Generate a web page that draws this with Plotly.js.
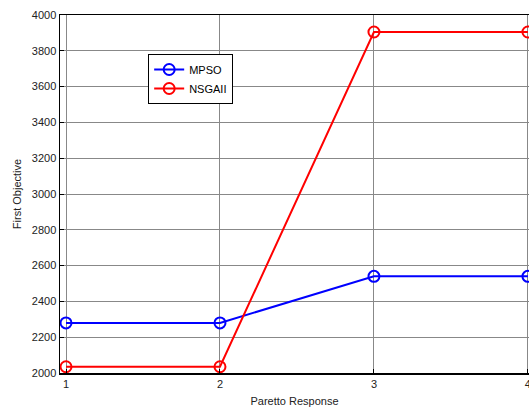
<!DOCTYPE html>
<html><head><meta charset="utf-8">
<script src="https://cdn.plot.ly/plotly-3.0.1.min.js"></script>
<style>body{margin:0;padding:0;background:#fff}#c{width:529px;height:410px}</style>
</head><body><div id="c"></div>
<script>
const responses = [1, 2, 3, 4];
const mpso = [2280, 2280, 2540, 2540];
const nsgaii = [2035, 2035, 3905, 3905];
const xTicks = [1, 2, 3, 4];
const yTicks = [2000, 2200, 2400, 2600, 2800, 3000, 3200, 3400, 3600, 3800, 4000];

const mk = (name, y, color) => ({
  x: responses, y: y, name: name, type: 'scatter', mode: 'lines+markers',
  line: {color: color, width: 2},
  marker: {symbol: 'circle-open', size: 11, color: color, line: {width: 2, color: color}},
  cliponaxis: false
});

const font = {family: 'Liberation Sans, Arial, sans-serif', size: 11, color: '#222'};
Plotly.newPlot('c', [mk('MPSO', mpso, '#0000ff'), mk('NSGAII', nsgaii, '#ff0000')], {
  width: 529, height: 410,
  margin: {l: 60, r: 0, t: 15, b: 37},
  paper_bgcolor: '#fff', plot_bgcolor: '#fff',
  font: font,
  showlegend: true,
  legend: {x: 0.188, y: 0.891, xanchor: 'left', yanchor: 'top', bgcolor: '#fff',
           bordercolor: '#000', borderwidth: 1, font: {family: font.family, size: 11, color: '#000'},
           tracegroupgap: 0, itemwidth: 30},
  xaxis: {range: [0.961, 4.007], tickvals: xTicks, ticktext: xTicks.map(String),
          ticklabeloverflow: 'allow',
          showgrid: true, gridcolor: '#888', gridwidth: 1, zeroline: false,
          showline: true, linecolor: '#000', linewidth: 1.5, mirror: true,
          ticks: 'inside', ticklen: 4, tickcolor: '#000',
          title: {text: 'Paretto Response', font: {family: font.family, size: 11, color: '#222'}, standoff: 8}},
  yaxis: {range: [2000, 4000], tickvals: yTicks, ticktext: yTicks.map(String),
          showgrid: true, gridcolor: '#888', gridwidth: 1, zeroline: false,
          showline: true, linecolor: '#000', linewidth: 1.5, mirror: true,
          ticks: 'inside', ticklen: 4, tickcolor: '#000',
          title: {text: 'First Objective', font: {family: font.family, size: 11, color: '#222'}, standoff: 8}}
}, {displayModeBar: false, staticPlot: true});
</script></body></html>
